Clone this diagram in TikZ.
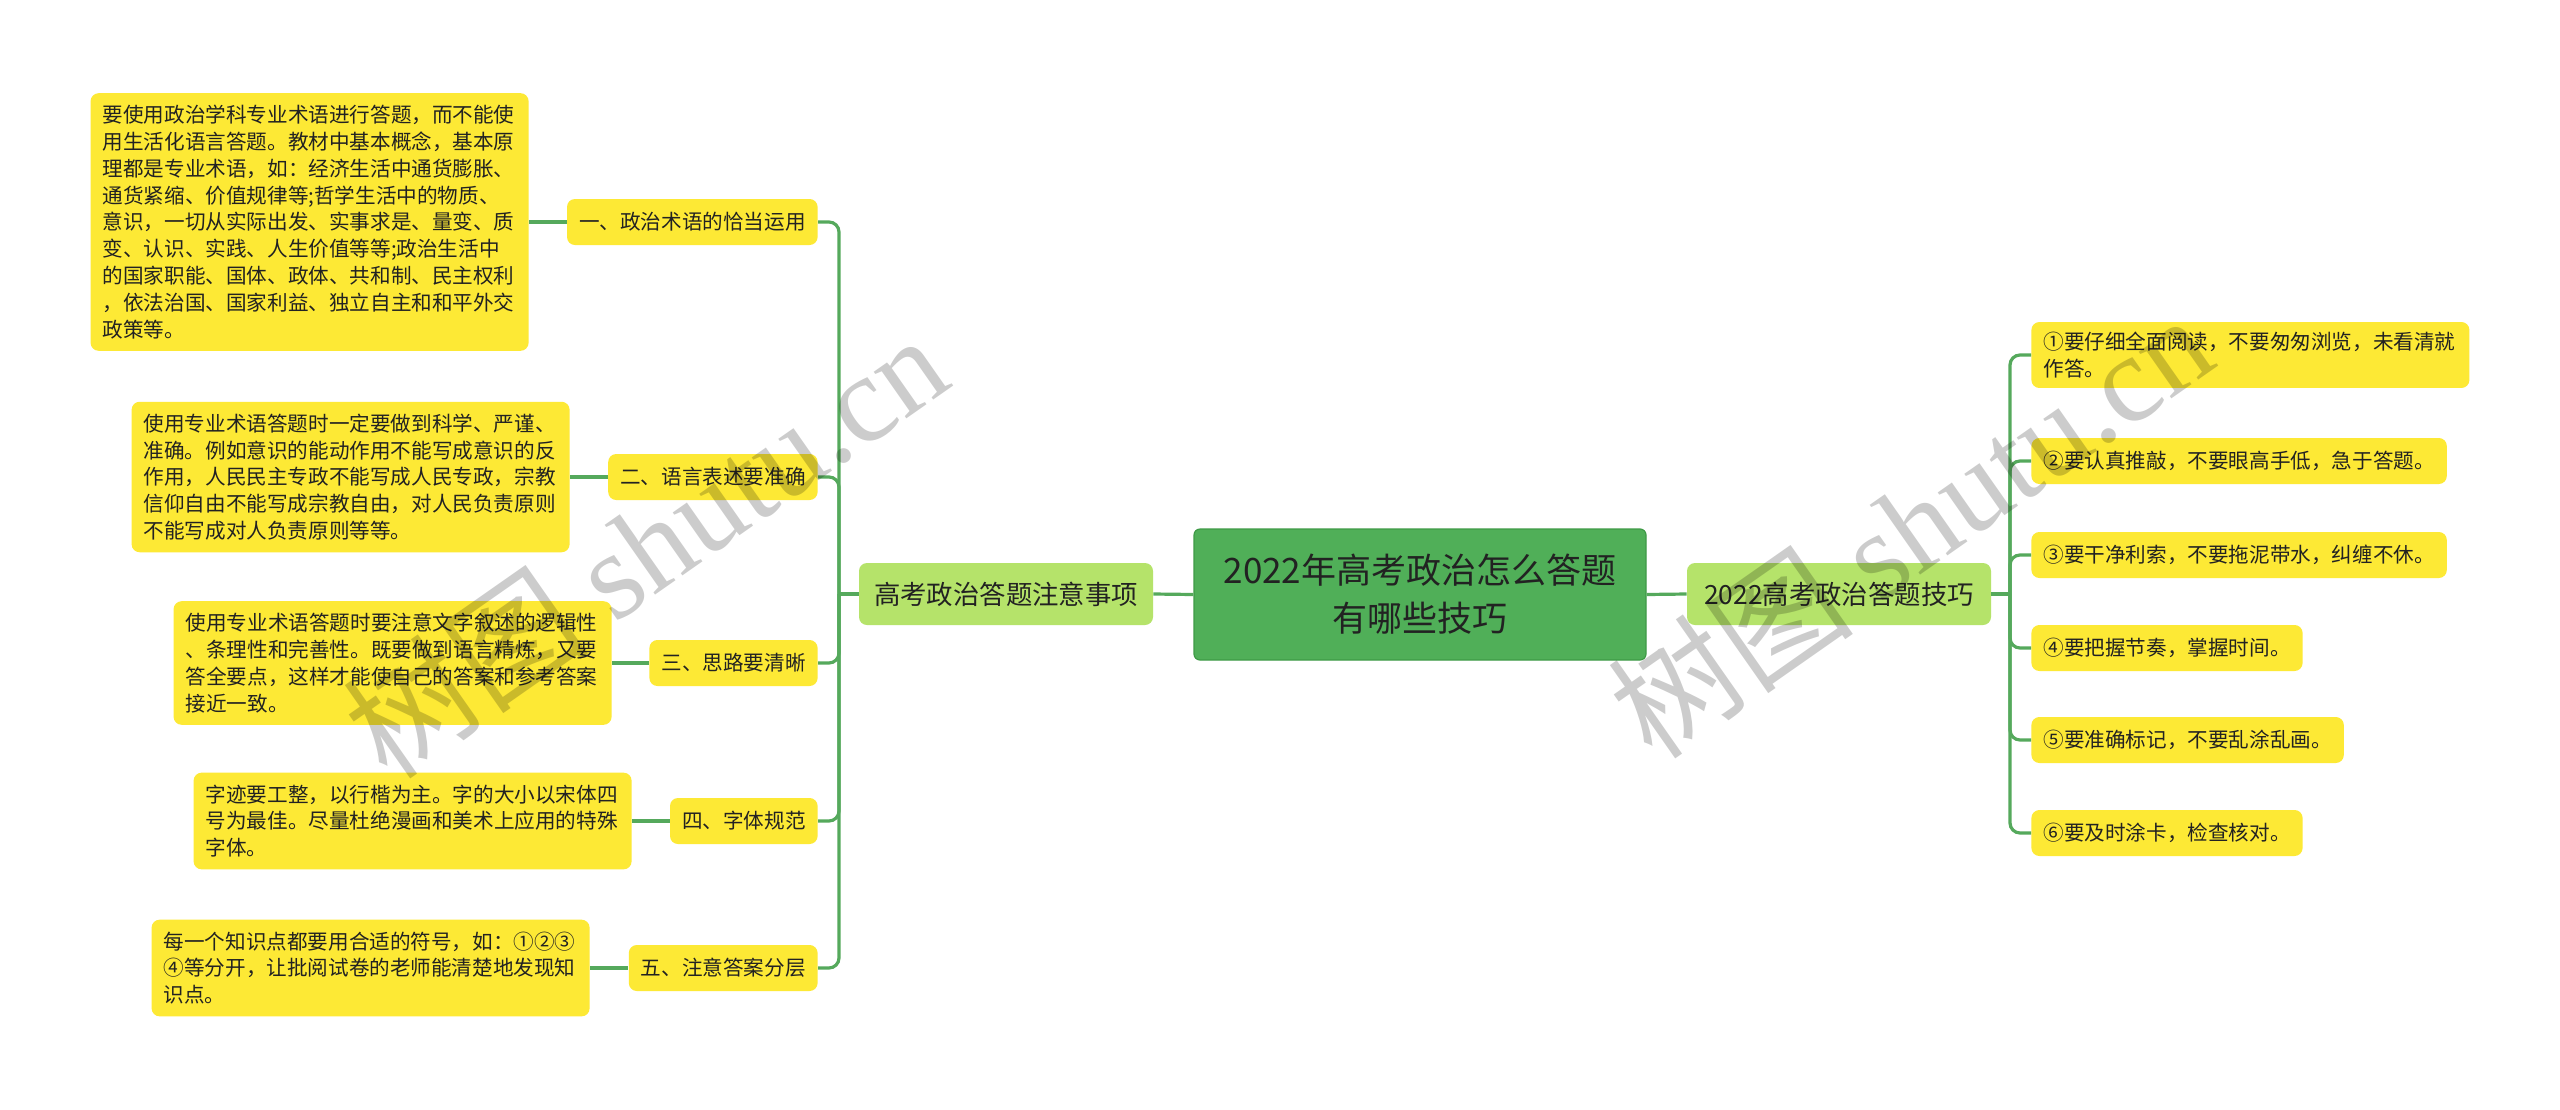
\documentclass[tikz,border=0pt]{standalone}
\usepackage{fontspec}
\setmainfont{Noto Sans CJK SC}
\newfontfamily\cjk{Noto Sans CJK SC}
\newfontfamily\wmserif{Liberation Serif}
\definecolor{rootgreen}{HTML}{50AF58}
\definecolor{rootborder}{HTML}{3E9A46}
\definecolor{maingreen}{HTML}{B5E36A}
\definecolor{leafyellow}{HTML}{FDE935}
\definecolor{linegreen}{HTML}{55A95C}
\definecolor{txt}{HTML}{222222}
\begin{document}
\begin{tikzpicture}[x=0.5pt,y=-0.5pt,
  rootbox/.style={draw=rootborder, line width=0.6pt, fill=rootgreen, rounded corners=3pt,
    minimum width=226pt, minimum height=65.5pt, align=center, text=txt,
    font=\cjk\fontsize{17.5pt}{24pt}\selectfont, inner sep=0pt},
  mainbox/.style={fill=maingreen, rounded corners=4pt, minimum height=31pt,
    text=txt, font=\cjk\fontsize{13.2pt}{16pt}\selectfont, inner sep=0pt},
  subbox/.style={fill=leafyellow, rounded corners=4pt, minimum height=23pt,
    inner xsep=6pt, inner ysep=0pt, text=txt, font=\cjk\fontsize{10.3pt}{13.4pt}\selectfont},
  leafbox/.style={fill=leafyellow, rounded corners=4pt, text width=207pt, align=left,
    inner xsep=6pt, inner ysep=6pt, text=txt, font=\cjk\fontsize{10.3pt}{13.4pt}\selectfont},
  link/.style={draw=linegreen, line width=1.6pt},
  branch/.style={link, rounded corners=5pt},
  wm/.style={text=black, text opacity=0.2, font=\cjk\fontsize{62pt}{70pt}\selectfont, inner sep=0pt}
]
\useasboundingbox (0,0) rectangle (2560,1109);
\fill[white] (0,0) rectangle (2560,1109);

% central and main nodes
\node[rootbox] (root) at (1420,594.5) {2022年高考政治怎么答题\\有哪些技巧};
\node[mainbox, minimum width=147pt] (lmain) at (1006,594) {高考政治答题注意事项};
\node[mainbox, minimum width=152pt] (rmain) at (1839,594) {2022高考政治答题技巧};

% left sub nodes
\node[subbox, anchor=east] (s1) at (818,222) {一、政治术语的恰当运用};
\node[subbox, anchor=east] (s2) at (818,477) {二、语言表述要准确};
\node[subbox, anchor=east] (s3) at (818,663) {三、思路要清晰};
\node[subbox, anchor=east] (s4) at (818,821) {四、字体规范};
\node[subbox, anchor=east] (s5) at (818,968) {五、注意答案分层};

% left leaves
\node[leafbox, anchor=east] (l1) at (529,222) {要使用政治学科专业术语进行答题，而不能使\\用生活化语言答题。教材中基本概念，基本原\\理都是专业术语，如：经济生活中通货膨胀、\\通货紧缩、价值规律等;哲学生活中的物质、\\意识，一切从实际出发、实事求是、量变、质\\变、认识、实践、人生价值等等;政治生活中\\的国家职能、国体、政体、共和制、民主权利\\，依法治国、国家利益、独立自主和和平外交\\政策等。};
\node[leafbox, anchor=east] (l2) at (570,477) {使用专业术语答题时一定要做到科学、严谨、\\准确。例如意识的能动作用不能写成意识的反\\作用，人民民主专政不能写成人民专政，宗教\\信仰自由不能写成宗教自由，对人民负责原则\\不能写成对人负责原则等等。};
\node[leafbox, anchor=east] (l3) at (612,663) {使用专业术语答题时要注意文字叙述的逻辑性\\、条理性和完善性。既要做到语言精炼，又要\\答全要点，这样才能使自己的答案和参考答案\\接近一致。};
\node[leafbox, anchor=east] (l4) at (632,821) {字迹要工整，以行楷为主。字的大小以宋体四\\号为最佳。尽量杜绝漫画和美术上应用的特殊\\字体。};
\node[leafbox, anchor=east] (l5) at (590,968) {每一个知识点都要用合适的符号，如：①②③\\④等分开，让批阅试卷的老师能清楚地发现知\\识点。};

% right leaves
\node[leafbox, anchor=west, inner ysep=5pt] (r1) at (2031,355) {①要仔细全面阅读，不要匆匆浏览，未看清就\\作答。};
\node[subbox, anchor=west] (r2) at (2031,461) {②要认真推敲，不要眼高手低，急于答题。};
\node[subbox, anchor=west] (r3) at (2031,555) {③要干净利索，不要拖泥带水，纠缠不休。};
\node[subbox, anchor=west] (r4) at (2031,648) {④要把握节奏，掌握时间。};
\node[subbox, anchor=west] (r5) at (2031,740) {⑤要准确标记，不要乱涂乱画。};
\node[subbox, anchor=west] (r6) at (2031,833) {⑥要及时涂卡，检查核对。};

% connectors
\coordinate (lt) at (839,594);
\coordinate (rt) at (2010,594);
\draw[link] (root.west) -- (lmain.east);
\draw[link] (root.east) -- (rmain.west);
\draw[link] (lmain.west) -- (lt);
\draw[link] (rmain.east) -- (rt);
\foreach \n in {s1,s2,s3,s4,s5} {\draw[branch] (lt) |- (\n.east);}
\foreach \n in {r1,r2,r3,r4,r5,r6} {\draw[branch] (rt) |- (\n.west);}
\draw[link] (l1.east) -- (s1.west);
\draw[link] (l2.east) -- (s2.west);
\draw[link] (l3.east) -- (s3.west);
\draw[link] (l4.east) -- (s4.west);
\draw[link] (l5.east) -- (s5.west);

% watermarks
\node[wm, rotate=35] (wm1) at (645,545) {树图 {\wmserif shutu.cn}};
\node[wm, rotate=35] (wm2) at (1910,525) {树图 {\wmserif shutu.cn}};
\end{tikzpicture}
\end{document}
